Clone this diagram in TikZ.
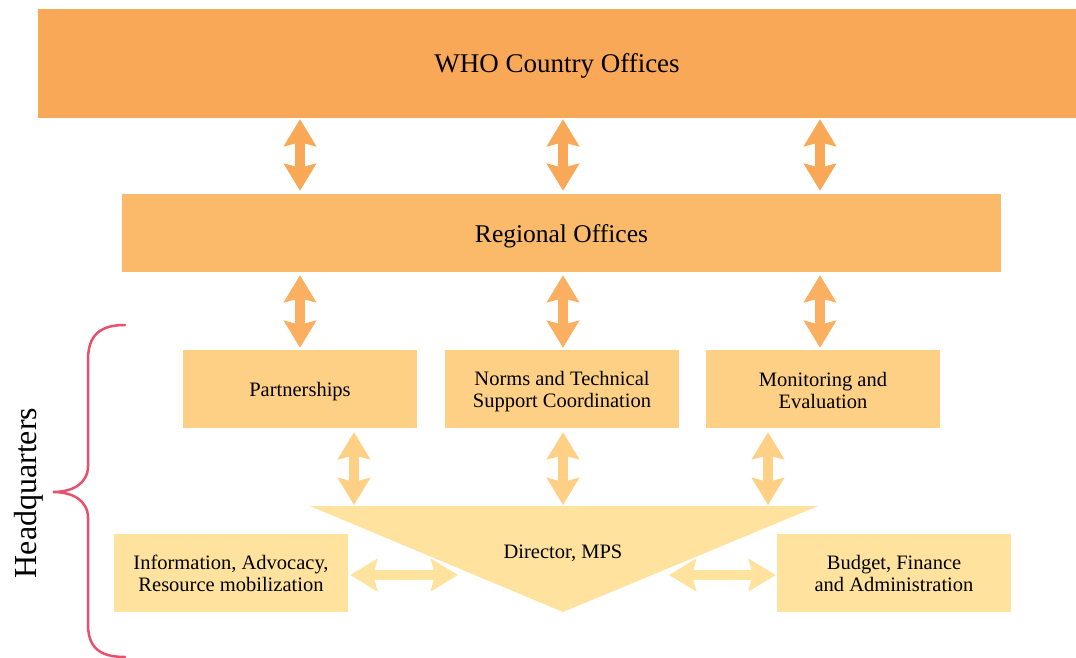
\documentclass[tikz,border=0pt]{standalone}
\usepackage{fontspec}
\setmainfont{Liberation Serif}
\usetikzlibrary{arrows.meta}
\definecolor{cA}{HTML}{F9A857}
\definecolor{cB}{HTML}{FBB96A}
\definecolor{cBa}{HTML}{FAB060}
\definecolor{cC}{HTML}{FDD085}
\definecolor{cD}{HTML}{FEE29D}
\definecolor{brc}{HTML}{E8506E}
\tikzset{
  box/.style={rectangle, inner sep=0pt},
  txt/.style={inner sep=0pt, align=center, text=black, yshift=-3pt},
  small/.style={box, minimum width=234pt, minimum height=78pt},
  stxt/.style={txt, font=\fontsize{20.5}{22}\selectfont},
  darr/.style={line width=10pt, {Stealth[length=27pt,width=32pt,inset=4pt]}-{Stealth[length=27pt,width=32pt,inset=4pt]}},
}
\begin{document}
\begin{tikzpicture}[x=1pt,y=-1pt]
\useasboundingbox (0,0) rectangle (1076,658);
% boxes
\node[box, fill=cA, minimum width=1038pt, minimum height=109pt] (who) at (557,63.5) {};
\node[txt, font=\fontsize{27}{30}\selectfont, yshift=1pt] (whoT) at (who.center) {WHO Country Offices};
\node[box, fill=cB, minimum width=879pt, minimum height=78pt] (reg) at (561.5,233) {};
\node[txt, font=\fontsize{25.5}{28}\selectfont] (regT) at (reg.center) {Regional Offices};
\node[small, fill=cC] (part) at (300,389) {};
\node[stxt] (partT) at (part.center) {Partnerships};
\node[small, fill=cC] (norms) at (562,389) {};
\node[stxt] (normsT) at (norms.center) {Norms and Technical\\Support Coordination};
\node[small, fill=cC] (mon) at (823,389) {};
\node[stxt, yshift=2pt] (monT) at (mon.center) {Monitoring and\\Evaluation};
\node[small, fill=cD] (info) at (231,573) {};
\node[stxt, yshift=3pt] (infoT) at (info.center) {Information, Advocacy,\\Resource mobilization};
\node[small, fill=cD] (bud) at (894,573) {};
\node[stxt, yshift=3pt] (budT) at (bud.center) {Budget, Finance\\and Administration};
% triangle
\coordinate (tA) at (310,506);
\coordinate (tB) at (818,506);
\coordinate (tC) at (563,612);
\fill[cD] (tA) -- (tB) -- (tC) -- cycle;
\node[stxt] (dir) at (563,550) {Director, MPS};
% x positions of arrows
\coordinate (xa) at (300,0);
\coordinate (xb) at (563,0);
\coordinate (xc) at (820,0);
\coordinate (xd) at (354,0);
\coordinate (xe) at (768,0);
% row 1
\foreach \p in {xa,xb,xc}
  \draw[darr, cA, shorten <=1pt, shorten >=3pt] (who.south -| \p) -- (reg.north -| \p);
% row 2
\foreach \p in {xa,xb,xc}
  \draw[darr, cBa, shorten <=3pt, shorten >=2pt] (reg.south -| \p) -- (part.north -| \p);
% row 3
\draw[darr, cC, shorten <=4pt, shorten >=1pt] (part.south -| xd) -- (tA -| xd);
\draw[darr, cC, shorten <=4pt, shorten >=1pt] (norms.south -| xb) -- (tA -| xb);
\draw[darr, cC, shorten <=4pt, shorten >=1pt] (mon.south -| xe) -- (tA -| xe);
% horizontal
\coordinate (dl) at (458,575);
\coordinate (dr) at (669,575);
\draw[darr, cD, shorten <=2pt] (info.east |- dl) -- (dl);
\draw[darr, cD, shorten >=1pt] (dr) -- (bud.west |- dr);
% brace
\coordinate (b1) at (125,325);
\coordinate (b2) at (53,492);
\coordinate (b3) at (125,657);
\draw[brc, line width=2.5pt, line cap=round]
  (b1) .. controls (100,325) and (88,335) .. (88,360) -- (88,466)
  .. controls (88,484) and (72,492) .. (b2)
  .. controls (72,492) and (88,500) .. (88,518) -- (88,624)
  .. controls (88,648) and (100,657) .. (b3);
\node[inner sep=0pt, rotate=90, font=\fontsize{32}{34}\selectfont] (hq) at (29,493) {Headquarters};
\end{tikzpicture}
\end{document}
